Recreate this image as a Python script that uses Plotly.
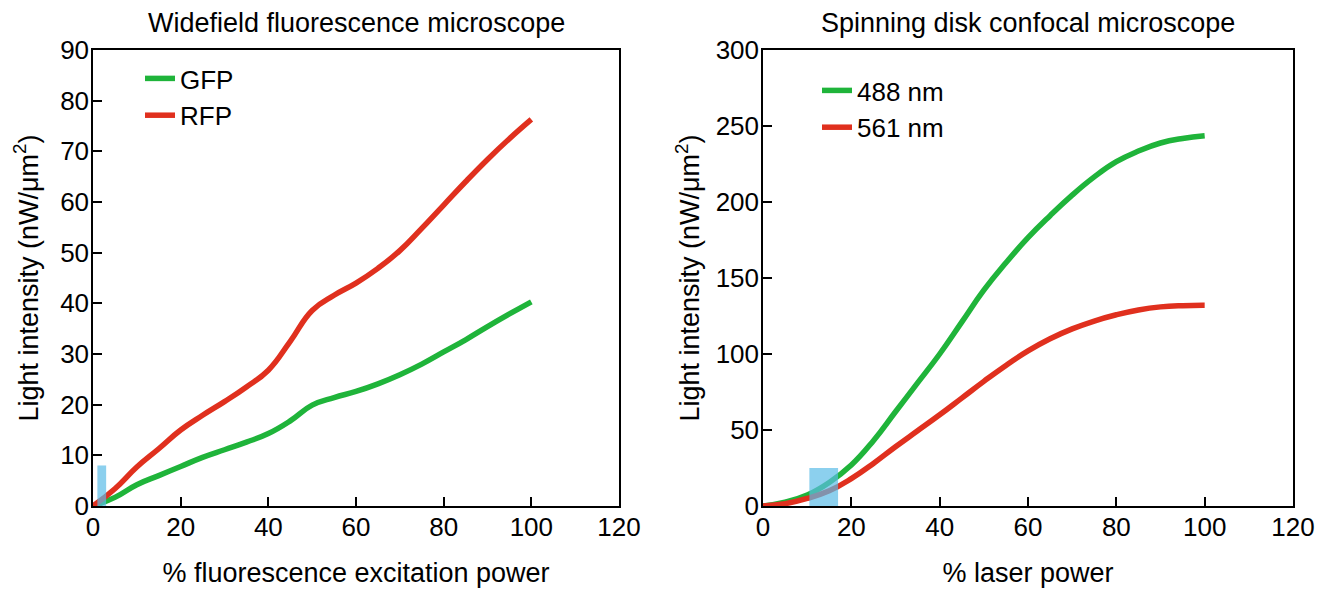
import plotly.graph_objects as go

# widefield panel
pct_wf = [0, 5, 10, 15, 20, 25, 30, 35, 40, 45, 50, 55, 60, 65, 70, 75, 80, 85, 90, 95, 100]
gfp = [0, 1.7, 4.2, 6.0, 7.8, 9.6, 11.1, 12.6, 14.3, 16.8, 19.9, 21.4, 22.6, 24.1, 25.9,
       28.0, 30.4, 32.8, 35.4, 37.9, 40.3]
rfp = [0, 3.4, 7.7, 11.3, 15.0, 17.9, 20.6, 23.5, 26.8, 32.5, 38.6, 41.6, 44.0, 46.9, 50.4,
       54.8, 59.4, 64.0, 68.4, 72.5, 76.3]
wf_box_x = [1, 3]
wf_box_y = [0, 8]

# spinning disk panel
pct_laser = [0, 5, 10, 15, 20, 25, 30, 35, 40, 45, 50, 55, 60, 65, 70, 75, 80, 85, 90, 95, 100]
nm488 = [0, 2.5, 7.2, 15.5, 27, 43, 62, 81, 100, 121, 142, 160, 176.5, 191, 204.5, 216.5,
         226.5, 233.5, 238.8, 241.8, 243.6]
nm561 = [0, 1.5, 5, 10, 18, 28, 39, 49.5, 60, 71, 82, 92.5, 102, 110, 116.5, 121.7, 125.8,
         129, 131, 131.8, 132]
sd_box_x = [10.5, 17]
sd_box_y = [0, 25]

GREEN = "#1fb43a"
RED = "#e0301e"
FONT = "Liberation Sans, Arial, sans-serif"
FS = 26
FT = 27
W, H = 1336, 589

fig = go.Figure()
line_kw = dict(width=5.5, shape="spline", smoothing=1.3)
fig.add_trace(go.Scatter(x=pct_wf, y=gfp, name="GFP", mode="lines",
                         line=dict(color=GREEN, **line_kw), xaxis="x", yaxis="y", legend="legend"))
fig.add_trace(go.Scatter(x=pct_wf, y=rfp, name="RFP", mode="lines",
                         line=dict(color=RED, **line_kw), xaxis="x", yaxis="y", legend="legend"))
fig.add_trace(go.Scatter(x=pct_laser, y=nm488, name="488 nm", mode="lines",
                         line=dict(color=GREEN, **line_kw), xaxis="x2", yaxis="y2", legend="legend2"))
fig.add_trace(go.Scatter(x=pct_laser, y=nm561, name="561 nm", mode="lines",
                         line=dict(color=RED, **line_kw), xaxis="x2", yaxis="y2", legend="legend2"))

box_fill = "rgba(91,188,231,0.7)"
fig.add_shape(type="rect", xref="x", yref="y", x0=wf_box_x[0], x1=wf_box_x[1],
              y0=wf_box_y[0], y1=wf_box_y[1], fillcolor=box_fill, line_width=0, layer="above")
fig.add_shape(type="rect", xref="x2", yref="y2", x0=sd_box_x[0], x1=sd_box_x[1],
              y0=sd_box_y[0], y1=sd_box_y[1], fillcolor=box_fill, line_width=0, layer="above")

# page body has an 8px margin, so positions are shifted by that amount
y_dom = [1 - 498 / H, 1 - 42 / H]
ax = dict(showline=True, mirror=True, linecolor="black", linewidth=1.5,
          ticks="inside", ticklen=9, tickwidth=1.5, tickcolor="black",
          showgrid=False, zeroline=False, tickfont=dict(size=FS, color="black"),
          ticklabelstandoff=-3, automargin=False)
title_font = dict(size=FT, color="black")

fig.update_layout(
    width=W, height=H,
    margin=dict(l=0, r=0, t=0, b=0, autoexpand=False),
    paper_bgcolor="white", plot_bgcolor="white",
    font=dict(family=FONT, size=FS, color="black"),
    xaxis=dict(domain=[85 / W, 611 / W], range=[0, 120], dtick=20, anchor="y",
               title=dict(text="% fluorescence excitation power", standoff=22, font=title_font), **ax),
    yaxis=dict(domain=y_dom, range=[0, 90], dtick=10, anchor="x",
               title=dict(text="Light intensity (nW/μm<sup>2</sup>)", standoff=14, font=title_font), **ax),
    xaxis2=dict(domain=[755 / W, 1285 / W], range=[0, 120], dtick=20, anchor="y2",
                title=dict(text="% laser power", standoff=22, font=title_font), **ax),
    yaxis2=dict(domain=y_dom, range=[0, 300], dtick=50, anchor="x2",
                title=dict(text="Light intensity (nW/μm<sup>2</sup>)", standoff=8, font=title_font), **ax),
    legend=dict(x=132 / W, y=1 - 47 / H, xanchor="left", yanchor="top",
                bgcolor="rgba(0,0,0,0)", font=dict(size=FS), tracegroupgap=0),
    legend2=dict(x=809 / W, y=1 - 59 / H, xanchor="left", yanchor="top",
                 bgcolor="rgba(0,0,0,0)", font=dict(size=FS), tracegroupgap=0),
    annotations=[
        dict(text="Widefield fluorescence microscope", xref="x domain", x=0.5,
             yref="paper", y=1 - 15 / H, yanchor="middle", showarrow=False, font=dict(size=FT)),
        dict(text="Spinning disk confocal microscope", xref="x2 domain", x=0.5,
             yref="paper", y=1 - 15 / H, yanchor="middle", showarrow=False, font=dict(size=FT)),
    ],
)

fig.write_html("out.html")
